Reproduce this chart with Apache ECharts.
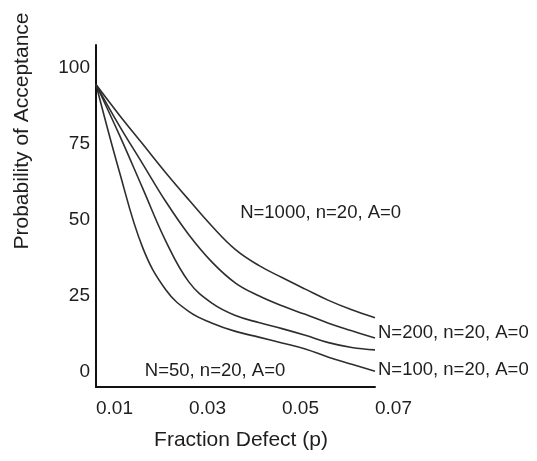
<!DOCTYPE html>
<html>
<head>
<meta charset="utf-8">
<style>
  html, body { margin: 0; padding: 0; background: #fff; }
  #chart { width: 537px; height: 461px; }
</style>
<script src="https://cdn.jsdelivr.net/npm/echarts@6/dist/echarts.min.js"></script>
</head>
<body>
<div id="chart"></div>
<script>
// fraction defect (p) where the curves were read
const pValues = [0.01, 0.015, 0.02, 0.025, 0.03, 0.035, 0.04, 0.045, 0.05, 0.055, 0.06, 0.065, 0.07]

// probability of acceptance (%) for each curve, top to bottom
const paN1000 = [94.5, 84.5, 75, 65.5, 56.5, 47.8, 40.2, 35, 31, 27.2, 23.5, 20.4, 17.8]
const paN200 = [94.5, 81, 68.5, 56, 45, 36, 29.2, 25, 21.7, 18.9, 16, 13.5, 11.1]
const paN100 = [94.5, 78, 60.5, 43, 29.5, 22.5, 18.5, 16.2, 14.2, 12, 9.6, 8, 7.2]
const paN50 = [94.5, 66, 41, 27, 19.8, 16, 13.3, 11.4, 9.5, 7.5, 4.8, 2.5, 0.2]

const curveNames = ['N=1000, n=20, A=0', 'N=200, n=20, A=0', 'N=100, n=20, A=0', 'N=50, n=20, A=0']
const yTicks = [0, 25, 50, 75, 100]
const xTicks = [0.01, 0.03, 0.05, 0.07]

const FONT = '"Liberation Sans", Arial, sans-serif'
const INK = '#1e1e1e'

const chart = echarts.init(document.getElementById('chart'))

function pairs(vals) {
    return pValues.map((p, i) => [p, vals[i]])
}

// where each curve's text sits, in data units (+ small pixel nudge)
const labelAt = [
    [0.0410, 52.3],
    [0.07, 12.8],
    [0.07, 0.7],
    [0.0205, 0.3]
]
const labelNudge = [0, 3, 3, 0]

const seriesVals = [paN1000, paN200, paN100, paN50]

const series = seriesVals.map((vals, i) => ({
    type: 'line',
    name: curveNames[i],
    data: pairs(vals),
    smooth: 0.4,
    symbol: 'none',
    clip: false,
    lineStyle: { color: '#2e2e2e', width: 1.6 },
    markPoint: {
        symbol: 'circle',
        symbolSize: 0,
        silent: true,
        label: {
            show: true,
            position: 'right',
            distance: labelNudge[i],
            formatter: curveNames[i],
            color: INK,
            fontFamily: FONT,
            fontSize: 18.5
        },
        data: [{ coord: labelAt[i] }]
    }
}))

chart.setOption({
    animation: false,
    backgroundColor: '#fff',
    grid: { left: 96, right: 162, top: 45, bottom: 74 },
    xAxis: {
        type: 'value',
        min: 0.01,
        max: 0.07,
        interval: 0.01,
        name: 'Fraction Defect (p)',
        nameLocation: 'middle',
        nameGap: 43,
        nameTextStyle: { color: INK, fontFamily: FONT, fontSize: 21, padding: [0, 0, 0, 11] },
        axisLine: { onZero: false, lineStyle: { color: '#111', width: 2 } },
        axisTick: { show: false },
        splitLine: { show: false },
        axisLabel: {
            color: INK,
            fontFamily: FONT,
            fontSize: 19,
            align: 'left',
            margin: 12,
            formatter: v => {
                const hit = xTicks.find(t => Math.abs(t - v) < 1e-6)
                return hit === undefined ? '' : hit.toFixed(2)
            }
        }
    },
    yAxis: {
        type: 'value',
        min: -5,
        max: 107.5,
        interval: 2.5,
        axisLine: { show: true, onZero: false, lineStyle: { color: '#111', width: 2 } },
        axisTick: { show: false },
        splitLine: { show: false },
        axisLabel: {
            color: INK,
            fontFamily: FONT,
            fontSize: 19,
            margin: 6,
            formatter: v => {
                const hit = yTicks.find(t => Math.abs(t - v) < 1e-6)
                return hit === undefined ? '' : String(hit)
            }
        }
    },
    graphic: [{
        type: 'text',
        x: 22,
        y: 131,
        rotation: Math.PI / 2,
        style: {
            text: 'Probability of Acceptance',
            fill: INK,
            font: '21px ' + FONT,
            textAlign: 'center',
            textVerticalAlign: 'middle'
        }
    }],
    series: series
})
</script>
</body>
</html>
